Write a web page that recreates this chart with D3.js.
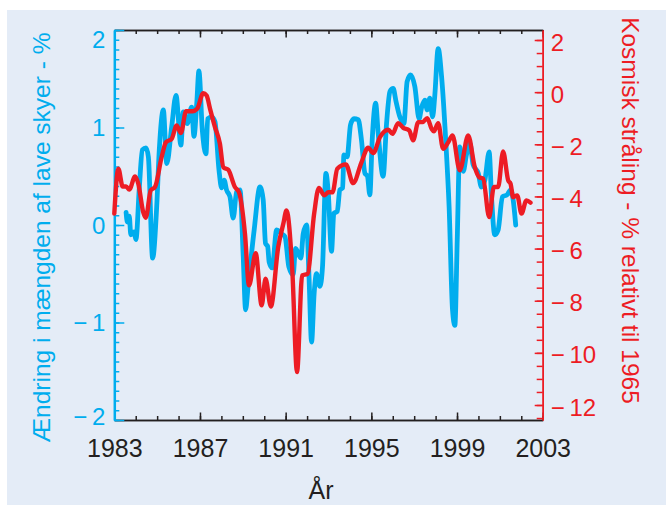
<!DOCTYPE html>
<html><head><meta charset="utf-8">
<script src="https://cdn.jsdelivr.net/npm/d3@7"></script>
<style>body{margin:0;background:#fff}svg{display:block}text{font-family:"Liberation Sans",Arial,sans-serif}</style>
</head><body>
<script>
// ---- data ----
const cloudYears = [1983.55,1983.61,1983.70,1983.77,1983.92,1984.01,1984.17,1984.31,1984.48,1984.59,1984.79,1984.98,1985.10,1985.29,1985.45,1985.68,1985.88,1986.11,1986.22,1986.41,1986.61,1986.72,1986.85,1986.95,1987.11,1987.28,1987.36,1987.55,1987.70,1987.89,1988.01,1988.13,1988.24,1988.40,1988.55,1988.71,1988.87,1989.02,1989.13,1989.25,1989.53,1989.80,1989.95,1990.06,1990.16,1990.23,1990.37,1990.58,1990.81,1990.97,1991.15,1991.35,1991.46,1991.71,1991.82,1991.98,1992.09,1992.21,1992.33,1992.44,1992.60,1992.72,1992.88,1992.99,1993.14,1993.25,1993.41,1993.53,1993.66,1993.72,1993.87,1994.03,1994.19,1994.39,1994.54,1994.70,1994.82,1994.93,1995.04,1995.20,1995.32,1995.55,1995.71,1995.87,1996.02,1996.15,1996.33,1996.52,1996.67,1996.83,1997.03,1997.23,1997.34,1997.50,1997.61,1997.73,1997.86,1997.96,1998.12,1998.28,1998.48,1998.63,1998.79,1998.90,1999.01,1999.13,1999.29,1999.44,1999.60,1999.75,1999.99,2000.14,2000.30,2000.50,2000.61,2000.76,2000.92,2001.12,2001.34,2001.50,2001.62,2001.74];
const cloudValues = [0.13,0.03,0.09,-0.10,-0.07,-0.15,0.39,0.77,0.79,0.70,-0.34,0.19,0.77,1.18,0.63,1.01,1.33,0.82,1.16,1.04,1.21,0.91,1.25,1.58,0.97,0.73,1.09,1.11,1.06,0.56,0.38,0.46,0.36,0.29,0.07,0.34,0.36,-0.33,-0.87,-0.62,-0.05,0.39,0.26,-0.19,-0.22,-0.38,-0.44,-0.05,-0.09,-0.12,-0.43,-0.51,-0.24,-0.34,-0.09,0.00,-0.53,-1.20,-0.70,-0.50,-0.63,-0.43,0.53,0.33,-0.27,0.12,0.14,0.36,0.38,0.72,0.70,1.03,1.09,1.08,0.87,0.53,0.50,0.31,0.87,1.25,0.94,0.50,1.04,1.37,1.40,1.27,1.11,1.04,1.47,1.54,1.42,1.09,1.20,1.28,1.18,1.30,1.11,1.32,1.81,1.52,0.84,0.19,-0.87,-1.03,-0.15,0.80,0.55,0.72,0.84,0.62,0.53,0.39,0.46,0.75,0.29,-0.10,-0.05,0.29,0.31,0.36,0.26,0.00];
const cosmicYears = [1983.00,1983.19,1983.39,1983.55,1983.70,1983.97,1984.12,1984.35,1984.47,1984.70,1984.90,1985.21,1985.41,1985.68,1985.91,1986.11,1986.35,1986.66,1986.87,1987.15,1987.31,1987.47,1987.70,1987.93,1988.09,1988.32,1988.63,1988.82,1989.10,1989.29,1989.60,1989.88,1990.06,1990.31,1990.65,1990.89,1991.04,1991.31,1991.53,1991.77,1992.02,1992.33,1992.55,1992.80,1992.99,1993.19,1993.41,1993.81,1994.15,1994.54,1994.85,1995.09,1995.40,1995.79,1995.99,1996.25,1996.49,1996.77,1996.95,1997.19,1997.39,1997.61,1997.81,1997.92,1998.12,1998.35,1998.59,1998.79,1999.13,1999.52,1999.83,2000.03,2000.22,2000.50,2000.72,2000.92,2001.15,2001.39,2001.50,2001.62,2001.81,2002.01,2002.24,2002.43];
const cosmicValues = [-4.66,-2.94,-3.62,-3.62,-3.74,-3.23,-3.51,-4.60,-4.82,-3.77,-3.64,-2.49,-1.92,-1.79,-1.28,-1.57,-0.73,-0.73,-0.64,-0.04,-0.13,-0.64,-1.34,-1.98,-2.88,-2.98,-3.64,-3.84,-5.43,-7.41,-6.18,-8.18,-7.16,-8.22,-5.95,-5.05,-4.54,-6.84,-10.74,-7.03,-6.97,-4.66,-3.67,-3.96,-3.84,-3.84,-2.94,-2.77,-3.49,-2.69,-2.13,-2.34,-1.73,-1.44,-1.60,-1.19,-1.37,-1.47,-1.85,-1.15,-1.15,-1.00,-1.40,-1.50,-1.19,-2.17,-1.92,-1.66,-3.00,-1.66,-2.88,-3.26,-3.32,-4.79,-3.64,-3.64,-2.27,-3.39,-3.51,-4.03,-3.96,-4.66,-4.15,-4.24];
const yearTicks = [1983,1987,1991,1995,1999,2003];
const leftTicks = [-2,-1,0,1,2];
const rightTicks = [2,0,-2,-4,-6,-8,-10,-12];

// ---- layout ----
const W = 666, H = 505;
const CYAN = "#00adee", RED = "#ed1c24", INK = "#231f20";
const svg = d3.select("body").append("svg").attr("width", W).attr("height", H);
svg.append("rect").attr("width", W).attr("height", H).attr("fill", "#fff");
svg.append("rect").attr("x", 7).attr("y", 10).attr("width", W - 7).attr("height", H - 10).attr("fill", "#e4ecf7");

const L = 114.3, R = 542.7, T = 30, B = 420;
const x = d3.scaleLinear().domain([1983, 2003]).range([L, R]);
const yL = d3.scaleLinear().domain([-2, 2]).range([B, T]);
const yR = d3.scaleLinear().domain([-12 - 15 / (365 / 14), 2 + 10 / (365 / 14)]).range([B, T]);

const noFmt = () => "";
function styleAxis(g, color, w) {
  g.selectAll("line").attr("stroke", color).attr("stroke-width", w);
  g.select(".domain").attr("stroke", color).attr("stroke-width", w);
}
const years = d3.range(1983, 2004);
// bottom
let g = svg.append("g").attr("transform", `translate(0,${B})`)
  .call(d3.axisBottom(x).tickValues(years).tickSize(-4).tickSizeOuter(0).tickFormat(noFmt));
styleAxis(g, INK, 1.5);
g = svg.append("g").attr("transform", `translate(0,${B})`)
  .call(d3.axisBottom(x).tickValues(yearTicks).tickSize(-7.5).tickSizeOuter(0).tickFormat(noFmt));
styleAxis(g, INK, 1.5);
// top
g = svg.append("g").attr("transform", `translate(0,${T})`)
  .call(d3.axisTop(x).tickValues(years).tickSize(-4).tickSizeOuter(0).tickFormat(noFmt));
styleAxis(g, INK, 1.5);
g = svg.append("g").attr("transform", `translate(0,${T})`)
  .call(d3.axisTop(x).tickValues(yearTicks).tickSize(-7.5).tickSizeOuter(0).tickFormat(noFmt));
styleAxis(g, INK, 1.5);
// year labels
g = svg.append("g").attr("transform", `translate(0,${B})`)
  .call(d3.axisBottom(x).tickValues(yearTicks).tickSize(0).tickPadding(19).tickFormat(d3.format("d")));
g.select(".domain").remove();
g.selectAll("text").attr("fill", INK).attr("font-size", 25).attr("font-family", "Liberation Sans, Arial, sans-serif");

// left axis
g = svg.append("g").attr("transform", `translate(${L},0)`)
  .call(d3.axisLeft(yL).tickValues(d3.range(-20, 21).map(d => d / 10)).tickSize(-5).tickSizeOuter(0).tickFormat(noFmt));
styleAxis(g, CYAN, 1.5);
g = svg.append("g").attr("transform", `translate(${L},0)`)
  .call(d3.axisLeft(yL).tickValues(leftTicks).tickSize(-10).tickSizeOuter(0).tickFormat(noFmt));
styleAxis(g, CYAN, 1.5);
g.select(".domain").attr("stroke-width", 2.5);
g = svg.append("g").attr("transform", `translate(${L - 9},0)`)
  .call(d3.axisLeft(yL).tickValues(leftTicks).tickSize(0).tickPadding(0).tickFormat(d => d < 0 ? "\u2212\u2009" + Math.abs(d) : String(d)));
g.select(".domain").remove();
g.selectAll("text").attr("fill", CYAN).attr("font-size", 24).attr("font-family", "Liberation Sans, Arial, sans-serif")
  .attr("dy", d => d === 2 ? "0.71em" : d === -2 ? "0.19em" : "0.34em");

// right axis
g = svg.append("g").attr("transform", `translate(${R},0)`)
  .call(d3.axisRight(yR).tickValues(d3.range(-25, 5).map(d => d / 2)).tickSize(-6).tickSizeOuter(0).tickFormat(noFmt));
styleAxis(g, RED, 1.5);
g = svg.append("g").attr("transform", `translate(${R},0)`)
  .call(d3.axisRight(yR).tickValues(rightTicks).tickSize(-8).tickSizeOuter(0).tickFormat(noFmt));
styleAxis(g, RED, 1.5);
g = svg.append("g").attr("transform", `translate(${R + 8},0)`)
  .call(d3.axisRight(yR).tickValues(rightTicks).tickSize(0).tickPadding(0).tickFormat(d => d < 0 ? "\u2212\u2009" + Math.abs(d) : String(d)));
g.select(".domain").remove();
g.selectAll("text").attr("fill", RED).attr("font-size", 24).attr("font-family", "Liberation Sans, Arial, sans-serif")
  .attr("dy", "0.42em");

// lines
const cloud = cloudYears.map((d, i) => [d, cloudValues[i]]);
const cosmic = cosmicYears.map((d, i) => [d, cosmicValues[i]]);
svg.append("path").datum(cloud).attr("fill", "none").attr("stroke", CYAN).attr("stroke-width", 4.8)
  .attr("stroke-linejoin", "round").attr("stroke-linecap", "round")
  .attr("d", d3.line().x(d => x(d[0])).y(d => yL(d[1])).curve(d3.curveMonotoneX));
svg.append("path").datum(cosmic).attr("fill", "none").attr("stroke", RED).attr("stroke-width", 4.4)
  .attr("stroke-linejoin", "round").attr("stroke-linecap", "round")
  .attr("d", d3.line().x(d => x(d[0])).y(d => yR(d[1])).curve(d3.curveMonotoneX));

// titles
svg.append("text").attr("transform", "translate(50,237.5) rotate(-90)").attr("text-anchor", "middle")
  .attr("fill", CYAN).attr("font-size", 24.5).text("Ændring i mængden af lave skyer - %");
svg.append("text").attr("transform", "translate(622,210.5) rotate(90)").attr("text-anchor", "middle")
  .attr("fill", RED).attr("font-size", 24.5).text("Kosmisk stråling - % relativt til 1965");
svg.append("text").attr("x", 321).attr("y", 499).attr("text-anchor", "middle")
  .attr("fill", INK).attr("font-size", 25).text("År");
</script>
</body></html>
